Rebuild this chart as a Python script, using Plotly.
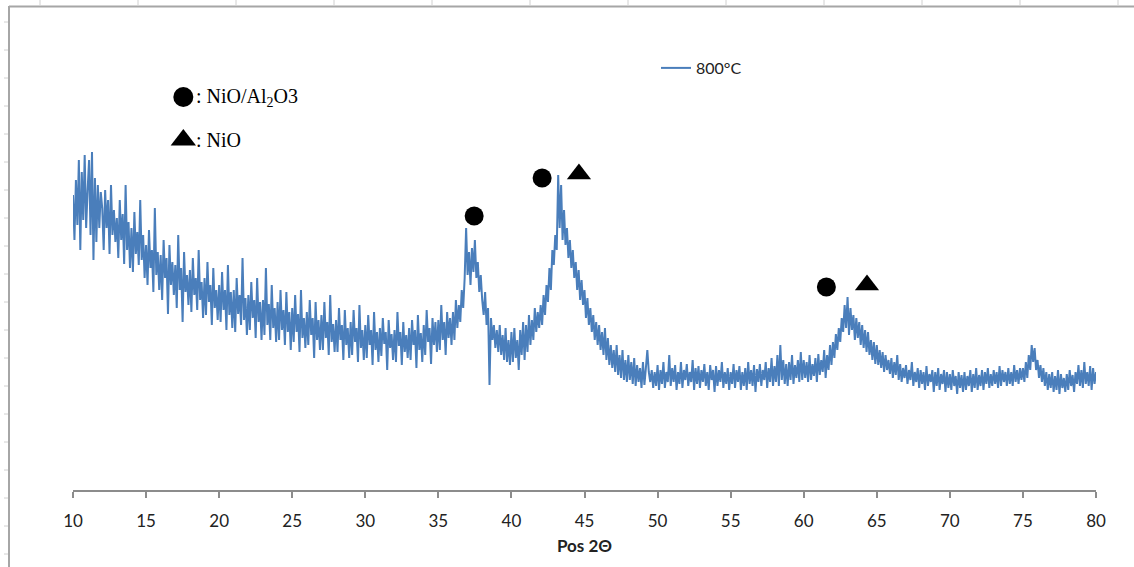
import plotly.graph_objects as go

# ---------------- data (intensity, arbitrary units) -------------
two_theta_start = 10.0
two_theta_step = 0.1
intensity_800C = [
    # 10.x
    295, 250, 310, 265, 330, 240, 318, 270, 335, 262,
    # 11.x
    300, 330, 255, 338, 230, 312, 248, 305, 262, 298,
    # 12.x
    282, 240, 300, 262, 290, 236, 305, 255, 280, 248,
    # 13.x
    272, 232, 290, 250, 276, 226, 305, 240, 268, 222,
    # 14.x
    262, 218, 278, 236, 258, 225, 290, 230, 255, 212,
    # 15.x
    245, 205, 260, 222, 240, 198, 282, 215, 238, 200,
    # 16.x
    235, 190, 250, 212, 232, 176, 245, 205, 228, 195,
    # 17.x
    225, 182, 255, 200, 222, 168, 238, 198, 215, 185,
    # 18.x
    220, 178, 232, 195, 212, 180, 240, 190, 208, 172,
    # 19.x
    212, 175, 228, 188, 205, 165, 222, 182, 200, 170,
    # 20.x
    205, 168, 218, 180, 200, 160, 225, 175, 198, 162,
    # 21.x
    200, 158, 212, 176, 195, 165, 232, 170, 192, 155,
    # 22.x
    195, 160, 208, 172, 190, 152, 212, 168, 188, 150,
    # 23.x
    190, 155, 222, 165, 186, 150, 205, 162, 182, 148,
    # 24.x
    188, 150, 200, 160, 180, 145, 198, 158, 178, 140,
    # 25.x
    182, 148, 195, 158, 176, 138, 200, 152, 172, 142,
    # 26.x
    178, 145, 190, 155, 172, 132, 188, 150, 170, 140,
    # 27.x
    175, 140, 188, 152, 168, 135, 195, 148, 166, 138,
    # 28.x
    170, 138, 182, 150, 165, 130, 180, 145, 162, 132,
    # 29.x
    168, 135, 180, 148, 162, 128, 185, 142, 160, 130,
    # 30.x
    165, 132, 175, 145, 160, 125, 178, 140, 158, 128,
    # 31.x
    162, 134, 172, 146, 158, 120, 170, 142, 156, 130,
    # 32.x
    160, 128, 178, 144, 158, 125, 168, 138, 155, 132,
    # 33.x
    162, 130, 170, 145, 160, 122, 175, 140, 157, 128,
    # 34.x
    165, 135, 180, 148, 162, 126, 172, 145, 168, 138,
    # 35.x
    170, 140, 185, 150, 168, 135, 178, 152, 172, 145,
    # 36.x
    178, 150, 190, 162, 185, 168, 200, 182, 212, 262,
    # 37.x
    215, 238, 205, 242, 218, 250, 212, 228, 198, 215,
    # 38.x
    190, 175, 198, 165, 182, 105, 172, 150, 165, 142,
    # 39.x
    160, 138, 165, 135, 155, 130, 162, 128, 150, 125,
    # 40.x
    158, 128, 162, 132, 150, 120, 160, 135, 168, 130,
    # 41.x
    165, 138, 175, 145, 170, 150, 182, 158, 178, 162,
    # 42.x
    185, 165, 195, 175, 205, 188, 222, 200, 240, 225,
    # 43.x
    255, 240, 315, 262, 305, 250, 280, 245, 262, 232,
    # 44.x
    250, 222, 240, 212, 228, 200, 220, 190, 210, 185,
    # 45.x
    200, 172, 192, 165, 182, 158, 175, 150, 168, 145,
    # 46.x
    165, 140, 158, 135, 162, 130, 152, 125, 145, 122,
    # 47.x
    140, 118, 145, 115, 135, 112, 140, 110, 130, 108,
    # 48.x
    135, 110, 128, 106, 132, 104, 125, 108, 122, 102,
    # 49.x
    128, 105, 122, 140, 118, 108, 120, 102, 118, 104,
    # 50.x
    125, 100, 120, 106, 128, 102, 118, 108, 135, 104,
    # 51.x
    122, 108, 125, 100, 118, 106, 128, 102, 120, 110,
    # 52.x
    126, 104, 118, 108, 130, 100, 122, 106, 124, 102,
    # 53.x
    120, 108, 126, 104, 118, 100, 125, 110, 120, 98,
    # 54.x
    124, 104, 120, 108, 128, 102, 118, 106, 122, 100,
    # 55.x
    118, 106, 126, 102, 120, 108, 124, 100, 118, 104,
    # 56.x
    122, 100, 128, 106, 120, 104, 125, 98, 121, 108,
    # 57.x
    126, 104, 120, 110, 128, 102, 122, 108, 132, 104,
    # 58.x
    124, 108, 135, 104, 145, 110, 130, 106, 126, 104,
    # 59.x
    128, 110, 135, 106, 125, 112, 130, 108, 138, 110,
    # 60.x
    130, 112, 128, 108, 135, 110, 126, 114, 132, 108,
    # 61.x
    136, 115, 130, 118, 140, 112, 135, 120, 145, 125,
    # 62.x
    148, 132, 156, 140, 162, 148, 172, 158, 185, 162,
    # 63.x
    193, 155, 182, 160, 175, 150, 172, 152, 168, 145,
    # 64.x
    165, 142, 160, 138, 158, 135, 150, 130, 148, 126,
    # 65.x
    145, 125, 140, 122, 138, 118, 135, 120, 130, 116,
    # 66.x
    132, 112, 128, 115, 135, 110, 126, 108, 122, 112,
    # 67.x
    125, 106, 120, 110, 128, 104, 118, 108, 122, 102,
    # 68.x
    120, 106, 118, 100, 124, 104, 116, 108, 120, 98,
    # 69.x
    118, 104, 122, 100, 116, 106, 120, 98, 118, 102,
    # 70.x
    116, 100, 120, 104, 114, 96, 118, 102, 115, 98,
    # 71.x
    118, 100, 114, 104, 120, 98, 116, 102, 122, 100,
    # 72.x
    115, 104, 120, 100, 118, 106, 122, 102, 116, 104,
    # 73.x
    120, 106, 118, 102, 124, 104, 120, 108, 118, 104,
    # 74.x
    122, 106, 118, 104, 125, 108, 120, 106, 122, 110,
    # 75.x
    122, 108, 128, 112, 135, 120, 145, 128, 142, 120,
    # 76.x
    130, 112, 125, 108, 122, 104, 118, 100, 116, 102,
    # 77.x
    118, 98, 114, 100, 120, 96, 116, 102, 112, 98,
    # 78.x
    116, 100, 120, 104, 115, 98, 118, 106, 125, 104,
    # 79.x
    120, 102, 128, 106, 118, 104, 124, 100, 122, 106,
    # 80.0
    118,
]
two_theta = [round(two_theta_start + i * two_theta_step, 2) for i in range(len(intensity_800C))]

# peak identification symbols (position in 2theta, height in intensity units)
nio_al2o3_x = [37.45, 42.1, 61.55]
nio_al2o3_y = [274, 312, 203]
nio_x = [44.62, 64.33]
nio_y = [316, 205]

# key symbols at top-left
key_circle_x, key_circle_y = [17.55], [393]
key_triangle_x, key_triangle_y = [17.55], [350]
key_labels = [": NiO/Al<sub>2</sub>O3", ": NiO"]

x_ticks = [10, 15, 20, 25, 30, 35, 40, 45, 50, 55, 60, 65, 70, 75, 80]

# ---------------- figure ----------------
BLUE = "#4a7ebb"
fig = go.Figure()

fig.add_trace(go.Scatter(
    x=two_theta, y=intensity_800C, mode="lines", name="800°C",
    line=dict(color=BLUE, width=2.0), showlegend=True,
))

for xs, ys, sym, sz in [
    (nio_al2o3_x, nio_al2o3_y, "circle", 19),
    (nio_x, nio_y, "triangle-up", 21),
    (key_circle_x, key_circle_y, "circle", 20),
    (key_triangle_x, key_triangle_y, "triangle-up", 22),
]:
    fig.add_trace(go.Scatter(
        x=xs, y=ys, mode="markers", showlegend=False, hoverinfo="skip",
        marker=dict(symbol=sym, size=sz, color="#000000", opacity=1, line=dict(width=0)),
    ))

for kx, ky, lab in zip(key_circle_x + key_triangle_x, key_circle_y + key_triangle_y, key_labels):
    fig.add_annotation(
        x=kx, y=ky, xref="x", yref="y", text=lab, showarrow=False,
        xanchor="left", yanchor="middle", xshift=11,
        font=dict(family="Liberation Serif", size=20, color="black"),
    )

# outer chart-frame decoration (gray border with small marks outside it)
L, R, T, B = 73, 1096, 10, 490
W, H = R - L, B - T


def px_x(p):
    return (p - L) / W


def px_y(p):
    return (B - p) / H


GRAY = "#a6a6a6"
shapes = [
    dict(type="line", xref="paper", yref="paper", x0=px_x(9), x1=px_x(9), y0=px_y(567), y1=px_y(6),
         line=dict(color=GRAY, width=2)),
    dict(type="line", xref="paper", yref="paper", x0=px_x(9), x1=px_x(1134), y0=px_y(6.5), y1=px_y(6.5),
         line=dict(color=GRAY, width=2)),
]
for k in range(12):
    xp = 40 + 98 * k
    shapes.append(dict(type="line", xref="paper", yref="paper", x0=px_x(xp), x1=px_x(xp),
                       y0=px_y(0), y1=px_y(5), line=dict(color="#d0d0d0", width=1)))
for k in range(20):
    yp = 22 + 28 * k
    shapes.append(dict(type="line", xref="paper", yref="paper", x0=px_x(4), x1=px_x(8),
                       y0=px_y(yp), y1=px_y(yp), line=dict(color="#d0d0d0", width=1)))

fig.update_layout(
    width=1134, height=567,
    margin=dict(l=L, r=1134 - R, t=T, b=567 - B),
    paper_bgcolor="white", plot_bgcolor="white",
    shapes=shapes,
    showlegend=True,
    legend=dict(x=px_x(656), y=px_y(68), xanchor="left", yanchor="middle",
                bgcolor="rgba(0,0,0,0)", font=dict(family="Lato", size=16, color="#222222")),
    xaxis=dict(
        range=[10, 80], tickvals=x_ticks, ticktext=[str(t) for t in x_ticks],
        showgrid=False, zeroline=False,
        showline=True, linecolor="#8c8c8c", linewidth=1.5,
        ticks="outside", ticklen=6, tickcolor="#8c8c8c", tickwidth=1.5,
        ticklabelstandoff=9,
        tickfont=dict(family="Lato", size=17, color="#222222"),
        title=dict(text="<b>Pos 2Θ</b>", standoff=10,
                   font=dict(family="Lato", size=17, color="#222222")),
    ),
    yaxis=dict(range=[0, 480], visible=False, showgrid=False, zeroline=False),
)

fig.write_html("out.html")
